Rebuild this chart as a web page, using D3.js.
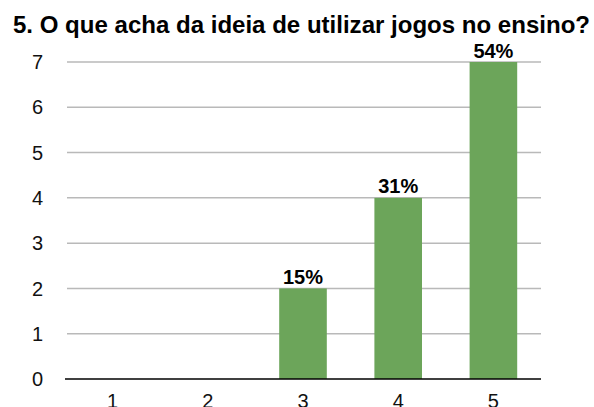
<!DOCTYPE html>
<html>
<head>
<meta charset="utf-8">
<script src="https://cdn.jsdelivr.net/npm/d3@7"></script>
<style>
  body { margin: 0; background: #fff; }
  text { font-family: "Liberation Sans", Arial, Helvetica, sans-serif; }
</style>
</head>
<body>
<div id="chart"></div>
<script>
var categories = ["1", "2", "3", "4", "5"];
var counts = [0, 0, 2, 4, 7];
var pctLabels = ["", "", "15%", "31%", "54%"];
var yTicks = [0, 1, 2, 3, 4, 5, 6, 7];

var width = 594, height = 407;
var margin = { top: 62, right: 53, bottom: 28, left: 65 };

var svg = d3.select("#chart").append("svg")
  .attr("width", width)
  .attr("height", height);

svg.append("text")
  .attr("x", 13)
  .attr("y", 33)
  .attr("font-size", "24px")
  .attr("font-weight", "bold")
  .attr("fill", "#000")
  .attr("textLength", 577)
  .attr("lengthAdjust", "spacingAndGlyphs")
  .text("5. O que acha da ideia de utilizar jogos no ensino?");

var x = d3.scaleBand()
  .domain(categories)
  .range([margin.left, width - margin.right])
  .paddingInner(0.5)
  .paddingOuter(0.25);

var y = d3.scaleLinear()
  .domain([0, 7])
  .range([height - margin.bottom, margin.top]);

// gridlines
svg.append("g")
  .selectAll("line")
  .data(yTicks.filter(function (d) { return d > 0; }))
  .enter().append("line")
  .attr("x1", margin.left + 2)
  .attr("x2", width - margin.right)
  .attr("y1", function (d) { return y(d); })
  .attr("y2", function (d) { return y(d); })
  .attr("stroke", "#b9b9b9")
  .attr("stroke-width", 1.5);

// y labels
svg.append("g")
  .selectAll("text")
  .data(yTicks)
  .enter().append("text")
  .attr("x", 43)
  .attr("y", function (d) { return y(d); })
  .attr("dy", "0.36em")
  .attr("text-anchor", "end")
  .attr("font-size", "20px")
  .attr("fill", "#111")
  .text(function (d) { return d; });

// bars
svg.append("g")
  .selectAll("rect")
  .data(counts)
  .enter().append("rect")
  .attr("x", function (d, i) { return x(categories[i]); })
  .attr("y", function (d) { return y(d); })
  .attr("width", x.bandwidth())
  .attr("height", function (d) { return y(0) - y(d); })
  .attr("fill", "#6ca55a");

// value labels
svg.append("g")
  .selectAll("text")
  .data(counts)
  .enter().append("text")
  .attr("x", function (d, i) { return x(categories[i]) + x.bandwidth() / 2; })
  .attr("y", function (d) { return y(d) - 4.5; })
  .attr("text-anchor", "middle")
  .attr("font-size", "20px")
  .attr("font-weight", "bold")
  .attr("fill", "#000")
  .text(function (d, i) { return pctLabels[i]; });

// x axis line
svg.append("line")
  .attr("x1", margin.left)
  .attr("x2", width - margin.right)
  .attr("y1", y(0))
  .attr("y2", y(0))
  .attr("stroke", "#000")
  .attr("stroke-width", 1.5);

// x labels
svg.append("g")
  .selectAll("text")
  .data(categories)
  .enter().append("text")
  .attr("x", function (d) { return x(d) + x.bandwidth() / 2; })
  .attr("y", y(0) + 28.5)
  .attr("text-anchor", "middle")
  .attr("font-size", "20px")
  .attr("fill", "#111")
  .text(function (d) { return d; });
</script>
</body>
</html>
